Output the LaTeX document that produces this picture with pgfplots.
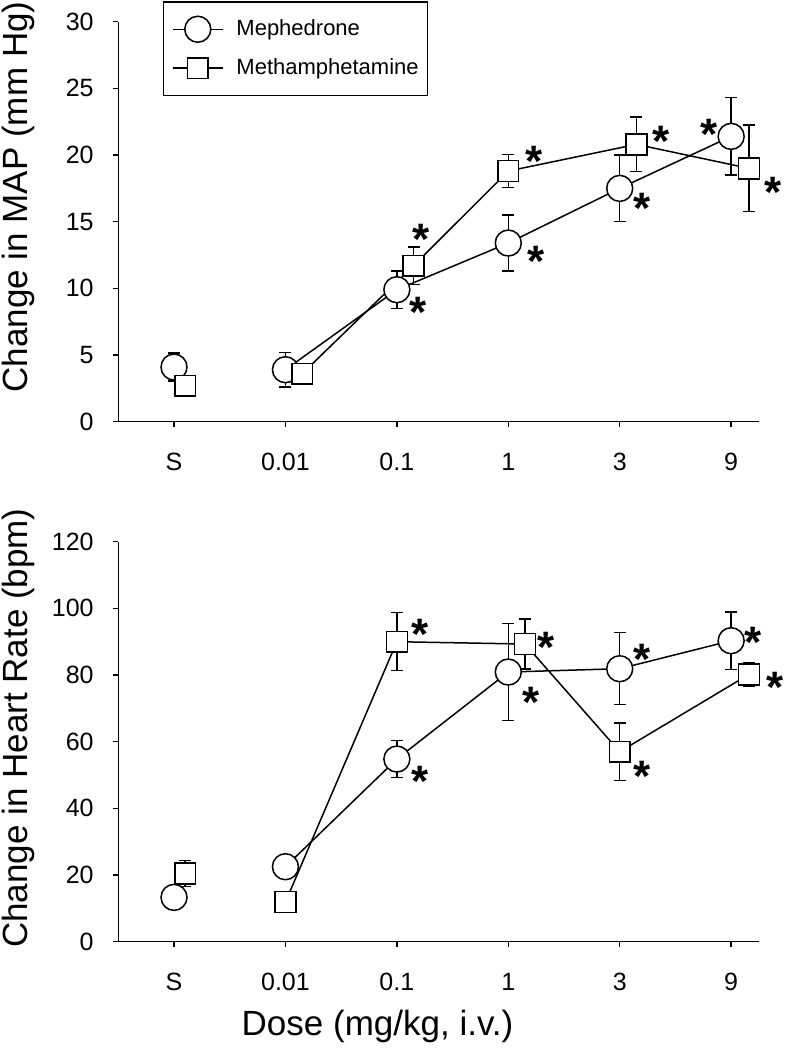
\documentclass[border=0pt]{standalone}
\usepackage{fontspec}
\setmainfont{Liberation Sans}
\usepackage{pgfplots}
\usepackage{pgfplotstable}
\pgfplotsset{compat=1.18}

% ---------- MAP (top) ----------
\pgfplotstableread{
x y e
1 3.9 1.3
2 9.9 1.4
3 13.4 2.1
4 17.5 2.5
5 21.4 2.9
}\mapmeph
\pgfplotstableread{
x y e
1.15 3.6 0.5
2.15 11.7 1.4
3.0 18.8 1.25
4.15 20.8 2.05
5.16 19.0 3.25
}\mapmeth
\pgfplotstableread{
x y e
0 4.1 1.05
}\mapmephS
\pgfplotstableread{
x y e
0.1 2.7 0.4
}\mapmethS
\pgfplotstableread{
x y
2.22 14.4
2.19 8.9
3.23 20.25
3.25 12.75
4.37 21.7
4.2 16.7
4.8 22.25
5.38 17.9
}\mapstar

% ---------- Heart rate (bottom) ----------
\pgfplotstableread{
x y e
1 22.5 3
2 54.8 5.5
3 80.9 14.6
4 81.9 10.8
5 90.3 8.6
}\hrmeph
\pgfplotstableread{
x y e
1.0 11.9 2.5
2.0 90.0 8.7
3.15 89.3 7.5
4.0 57.0 8.6
5.16 80.2 3.5
}\hrmeth
\pgfplotstableread{
x y e
0 13.3 2
}\hrmephS
\pgfplotstableread{
x y e
0.1 20.5 3.9
}\hrmethS
\pgfplotstableread{
x y
2.21 95
2.21 51
3.34 91
3.2 74.7
4.2 87.5
4.2 52.5
5.2 92.5
5.39 79
}\hrstar

\pgfplotsset{
  common/.style={
    scale only axis, width=320.35pt, height=200pt,
    xmin=-0.5, xmax=5.25,
    axis x line*=bottom, axis y line*=left,
    x axis line style={-}, y axis line style={-},
    axis line style={line width=0.75pt, black},
    tick align=outside, major tick length=2.5pt,
    every tick/.style={line width=0.75pt, black},
    xtick={0,1,2,3,4,5}, xticklabels={S,0.01,0.1,1,3,9},
    ticklabel style={font=\fontsize{12.5}{15}\selectfont},
    xticklabel style={anchor=base, yshift=-21.65pt},
    yticklabel style={anchor=east, inner xsep=0pt, xshift=-9.65pt},
    /pgf/number format/assume math mode=true,
    label style={font=\fontsize{17.5}{21}\selectfont},
    clip=false,
  },
  errs/.style={draw=none, mark=none, forget plot,
    error bars/y dir=both, error bars/y explicit,
    error bars/error mark options={rotate=90, mark size=3pt, line width=0.75pt, black},
    error bars/error bar style={line width=0.75pt, black, solid},
  },
  meph/.style={black, line width=0.75pt, mark=*, mark size=6.5pt,
    mark options={fill=white, draw=black, line width=0.75pt}},
  meth/.style={black, line width=0.75pt, mark=square*, mark size=5.2pt,
    mark options={fill=white, draw=black, line width=0.75pt}},
  stars/.style={draw=none, mark=none, forget plot,
    nodes near coords={\bfseries *},
    every node near coord/.append style={anchor=center,
      font=\fontsize{22}{26}\selectfont, yshift=-4.6pt, inner sep=0pt}},
}

\begin{document}
\begin{tikzpicture}
\path[use as bounding box] (0,0) rectangle (392pt,-525pt);

\begin{axis}[common,
  at={(59.15pt,-210.85pt)}, anchor=south west,
  ymin=0, ymax=30, ytick={0,5,...,30},
  ylabel={Change in MAP (mm Hg)},
  ylabel style={at={(axis description cs:-0.1565,0.5618)}, anchor=center},
  legend style={at={(axis description cs:0.0693,1.0517)}, anchor=north west,
    draw=black, line width=0.75pt, inner xsep=4.35pt, inner ysep=7pt,
    font=\fontsize{11}{13}\selectfont, row sep=6pt,
    nodes={inner xsep=0pt, inner ysep=2pt},
    /tikz/every odd column/.append style={column sep=6.5pt}},
  legend cell align=left,
  legend image code/.code={\draw[mark repeat=2, mark phase=2, #1]
    plot coordinates {(0pt,0pt) (12.45pt,0pt) (24.9pt,0pt)};},
]
\addlegendimage{meph}
\addlegendentry{Mephedrone}
\addlegendimage{meth}
\addlegendentry{Methamphetamine}
% error bars first, so that the white markers cover their inner parts
\addplot[errs] table[x=x, y=y, y error=e] {\mapmeph};
\addplot[errs] table[x=x, y=y, y error=e] {\mapmeth};
\addplot[errs] table[x=x, y=y, y error=e] {\mapmephS};
\addplot[errs] table[x=x, y=y, y error=e] {\mapmethS};
\addplot[meph, forget plot] table[x=x, y=y] {\mapmeph};
\addplot[meth, forget plot] table[x=x, y=y] {\mapmeth};
\addplot[meph, only marks, forget plot] table[x=x, y=y] {\mapmephS};
\addplot[meth, only marks, forget plot] table[x=x, y=y] {\mapmethS};
\addplot[stars] table[x=x, y=y] {\mapstar};
\end{axis}

\begin{axis}[common,
  at={(59.15pt,-470.85pt)}, anchor=south west,
  ymin=0, ymax=120, ytick={0,20,...,120},
  ylabel={Change in Heart Rate (bpm)},
  ylabel style={at={(axis description cs:-0.1565,0.534)}, anchor=center},
  xlabel={Dose (mg/kg, i.v.)},
  xlabel style={at={(axis description cs:0.4046,-0.2123)}, anchor=center},
]
\addplot[errs] table[x=x, y=y, y error=e] {\hrmeph};
\addplot[errs] table[x=x, y=y, y error=e] {\hrmeth};
\addplot[errs] table[x=x, y=y, y error=e] {\hrmephS};
\addplot[errs] table[x=x, y=y, y error=e] {\hrmethS};
\addplot[meph, forget plot] table[x=x, y=y] {\hrmeph};
\addplot[meth, forget plot] table[x=x, y=y] {\hrmeth};
\addplot[meph, only marks, forget plot] table[x=x, y=y] {\hrmephS};
\addplot[meth, only marks, forget plot] table[x=x, y=y] {\hrmethS};
\addplot[stars] table[x=x, y=y] {\hrstar};
\end{axis}
\end{tikzpicture}
\end{document}
